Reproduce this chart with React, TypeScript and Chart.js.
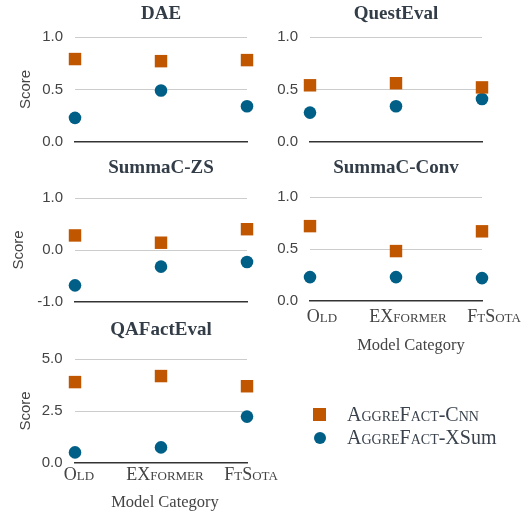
import React, { useEffect, useRef } from "react";
import { Chart, registerables } from "chart.js";
Chart.register(...registerables);

const categories = ["Old", "EXformer", "FtSota"];
const seriesNames = ["AggreFact-Cnn", "AggreFact-XSum"];

const daeCnn = [0.79, 0.77, 0.78];
const daeXsum = [0.23, 0.49, 0.34];
const questCnn = [0.54, 0.56, 0.52];
const questXsum = [0.28, 0.34, 0.41];
const zsCnn = [0.28, 0.14, 0.4];
const zsXsum = [-0.68, -0.32, -0.23];
const convCnn = [0.72, 0.48, 0.67];
const convXsum = [0.23, 0.23, 0.22];
const qaCnn = [3.89, 4.18, 3.69];
const qaXsum = [0.51, 0.75, 2.23];

const unitTicks = [0, 0.5, 1];
const zsTicks = [-1, 0, 1];
const qaTicks = [0, 2.5, 5];

const CNN_COLOR = "#c05600";
const XSUM_COLOR = "#005f87";
const TITLE_COLOR = "#333d47";
const TEXT_COLOR = "#444444";
const SERIF = "'Liberation Serif', 'DejaVu Serif', serif";
const SANS = "'Liberation Sans', Arial, sans-serif";

type Spec = {
  title: string;
  x: number; y: number; w: number; h: number;
  area: { l: number; r: number; t: number; b: number };
  titleCy: number;
  tickRight: number;
  yTitleCx: number | null;
  xLabelCy: number | null;
  xLabelShift: number;
  xTitleCy: number | null;
  xTitleCx: number | null;
  ticks: number[];
  cnn: number[];
  xsum: number[];
};

const specs: Spec[] = [
  { title: "DAE", x: 0, y: 0, w: 262, h: 180, area: { l: 75, r: 247, t: 37, b: 142 }, titleCy: 14, tickRight: 63, yTitleCx: 25.5, xLabelCy: null, xLabelShift: 0, xTitleCy: null, xTitleCx: null, ticks: unitTicks, cnn: daeCnn, xsum: daeXsum },
  { title: "QuestEval", x: 262, y: 0, w: 263, h: 180, area: { l: 310, r: 482, t: 37, b: 142 }, titleCy: 14, tickRight: 298, yTitleCx: null, xLabelCy: null, xLabelShift: 0, xTitleCy: null, xTitleCx: null, ticks: unitTicks, cnn: questCnn, xsum: questXsum },
  { title: "SummaC-ZS", x: 0, y: 152, w: 262, h: 185, area: { l: 75, r: 247, t: 198, b: 302 }, titleCy: 168, tickRight: 63, yTitleCx: 19, xLabelCy: null, xLabelShift: 0, xTitleCy: null, xTitleCx: null, ticks: zsTicks, cnn: zsCnn, xsum: zsXsum },
  { title: "SummaC-Conv", x: 262, y: 152, w: 263, h: 210, area: { l: 310, r: 482, t: 197, b: 301 }, titleCy: 168, tickRight: 298, yTitleCx: null, xLabelCy: 317.5, xLabelShift: 12, xTitleCy: 346, xTitleCx: 411, ticks: unitTicks, cnn: convCnn, xsum: convXsum },
  { title: "QAFactEval", x: 0, y: 312, w: 290, h: 201, area: { l: 75, r: 247, t: 359, b: 463 }, titleCy: 330, tickRight: 62.5, yTitleCx: 25.5, xLabelCy: 475.5, xLabelShift: 4, xTitleCy: 503, xTitleCx: 165, ticks: qaTicks, cnn: qaCnn, xsum: qaXsum },
];

const xTitlePlugin = {
  id: "xTitleText",
  afterDraw(chart: any, _args: any, opts: any) {
    if (!opts || !opts.display) return;
    const ctx = chart.ctx;
    ctx.save();
    ctx.font = `${opts.size}px ${SERIF}`;
    ctx.fillStyle = TEXT_COLOR;
    ctx.textAlign = "center";
    ctx.textBaseline = "middle";
    ctx.fillText(opts.text, opts.x, opts.y);
    ctx.restore();
  },
};

function Panel({ s }: { s: Spec }) {
  const ref = useRef<HTMLCanvasElement>(null);
  useEffect(() => {
    const L = s.area.l - s.x;
    const R = s.area.r - s.x;
    const T = s.area.t - s.y;
    const B = s.area.b - s.y;
    const titleSize = 19;
    const titleLH = titleSize * 1.2;
    const tcy = s.titleCy - s.y;
    const ySize = 15;
    const yLH = ySize * 1.2;
    const xSize = 18;
    const xLH = xSize * 1.2;
    const yMin = s.ticks[0];
    const yMax = s.ticks[s.ticks.length - 1];
    const showX = s.xLabelCy !== null;
    const chart = new Chart(ref.current as HTMLCanvasElement, {
      type: "line",
      data: {
        labels: categories,
        datasets: [
          {
            label: seriesNames[0],
            data: s.cnn,
            showLine: false,
            pointStyle: "rect",
            pointRadius: 8.8,
            pointBackgroundColor: CNN_COLOR,
            pointBorderColor: CNN_COLOR,
            pointBorderWidth: 0,
            backgroundColor: CNN_COLOR,
            borderColor: CNN_COLOR,
            clip: false,
          } as any,
          {
            label: seriesNames[1],
            data: s.xsum,
            showLine: false,
            pointStyle: "circle",
            pointRadius: 6.3,
            pointBackgroundColor: XSUM_COLOR,
            pointBorderColor: XSUM_COLOR,
            pointBorderWidth: 0,
            backgroundColor: XSUM_COLOR,
            borderColor: XSUM_COLOR,
            clip: false,
          } as any,
        ],
      },
      options: {
        responsive: false,
        animation: false,
        events: [],
        layout: { padding: { left: 0, top: 0, bottom: 0, right: s.w - R } },
        plugins: {
          legend: { display: false },
          tooltip: { enabled: false },
          title: {
            display: true,
            text: s.title,
            fullSize: false,
            color: TITLE_COLOR,
            font: { family: SERIF, size: titleSize, weight: "bold", lineHeight: 1.2 },
            padding: { top: tcy - titleLH / 2, bottom: T - tcy - titleLH / 2 },
          },
          xTitleText: {
            display: showX,
            text: "Model Category",
            size: 16.5,
            x: (s.xTitleCx ?? 0) - s.x,
            y: (s.xTitleCy ?? 0) - s.y,
          },
        } as any,
        scales: {
          x: {
            type: "category",
            offset: false,
            grid: { display: false, drawTicks: false },
            border: { display: true, color: "#333333", width: 1.5 },
            ticks: {
              display: showX,
              autoSkip: false,
              maxRotation: 0,
              minRotation: 0,
              labelOffset: s.xLabelShift,
              padding: showX ? (s.xLabelCy as number) - s.y - B - xLH / 2 : 0,
              color: TEXT_COLOR,
              font: { family: SERIF, size: xSize, weight: "small-caps", lineHeight: 1.2 } as any,
            },
            afterFit: (sc: any) => {
              sc.height = s.h - B;
            },
          },
          y: {
            min: yMin,
            max: yMax,
            afterBuildTicks: (sc: any) => {
              sc.ticks = s.ticks.map((v) => ({ value: v }));
            },
            ticks: {
              padding: L - (s.tickRight - s.x),
              color: TEXT_COLOR,
              font: { family: SANS, size: ySize },
              callback: (v: any) => Number(v).toFixed(1),
            },
            grid: {
              drawTicks: false,
              lineWidth: 1,
              color: (c: any) => (c.tick && c.tick.value === yMin ? "rgba(0,0,0,0)" : "#cccccc"),
            },
            border: { display: false },
            title: {
              display: s.yTitleCx !== null,
              text: "Score",
              color: TEXT_COLOR,
              font: { family: SANS, size: ySize, lineHeight: 1.2 },
              padding: { top: s.yTitleCx !== null ? (s.yTitleCx as number) - s.x - yLH / 2 : 0, bottom: 0 },
            },
            afterFit: (sc: any) => {
              sc.width = L;
            },
          },
        },
      },
      plugins: [xTitlePlugin],
    });
    return () => chart.destroy();
  }, [s]);
  return (
    <canvas
      ref={ref}
      width={s.w}
      height={s.h}
      style={{ position: "absolute", left: s.x, top: s.y, width: s.w, height: s.h }}
    />
  );
}

export default function App() {
  const legendText: React.CSSProperties = {
    position: "absolute",
    left: 347,
    fontFamily: SERIF,
    fontSize: 20,
    fontVariant: "small-caps",
    color: "#3a434d",
    lineHeight: "24px",
    whiteSpace: "nowrap",
  };
  return (
    <div style={{ position: "absolute", left: 0, top: 0, width: 525, height: 513, background: "#ffffff", overflow: "hidden" }}>
      {specs.map((s) => (
        <Panel key={s.title} s={s} />
      ))}
      <div style={{ position: "absolute", left: 313, top: 408, width: 12.5, height: 12.5, background: CNN_COLOR }} />
      <div style={{ position: "absolute", left: 313.5, top: 431.5, width: 12.6, height: 12.6, borderRadius: "50%", background: XSUM_COLOR }} />
      <div style={{ ...legendText, top: 401.5 }}>AggreFact-Cnn</div>
      <div style={{ ...legendText, top: 425 }}>
        AggreFact-XS<span style={{ fontVariant: "normal" }}>um</span>
      </div>
    </div>
  );
}
